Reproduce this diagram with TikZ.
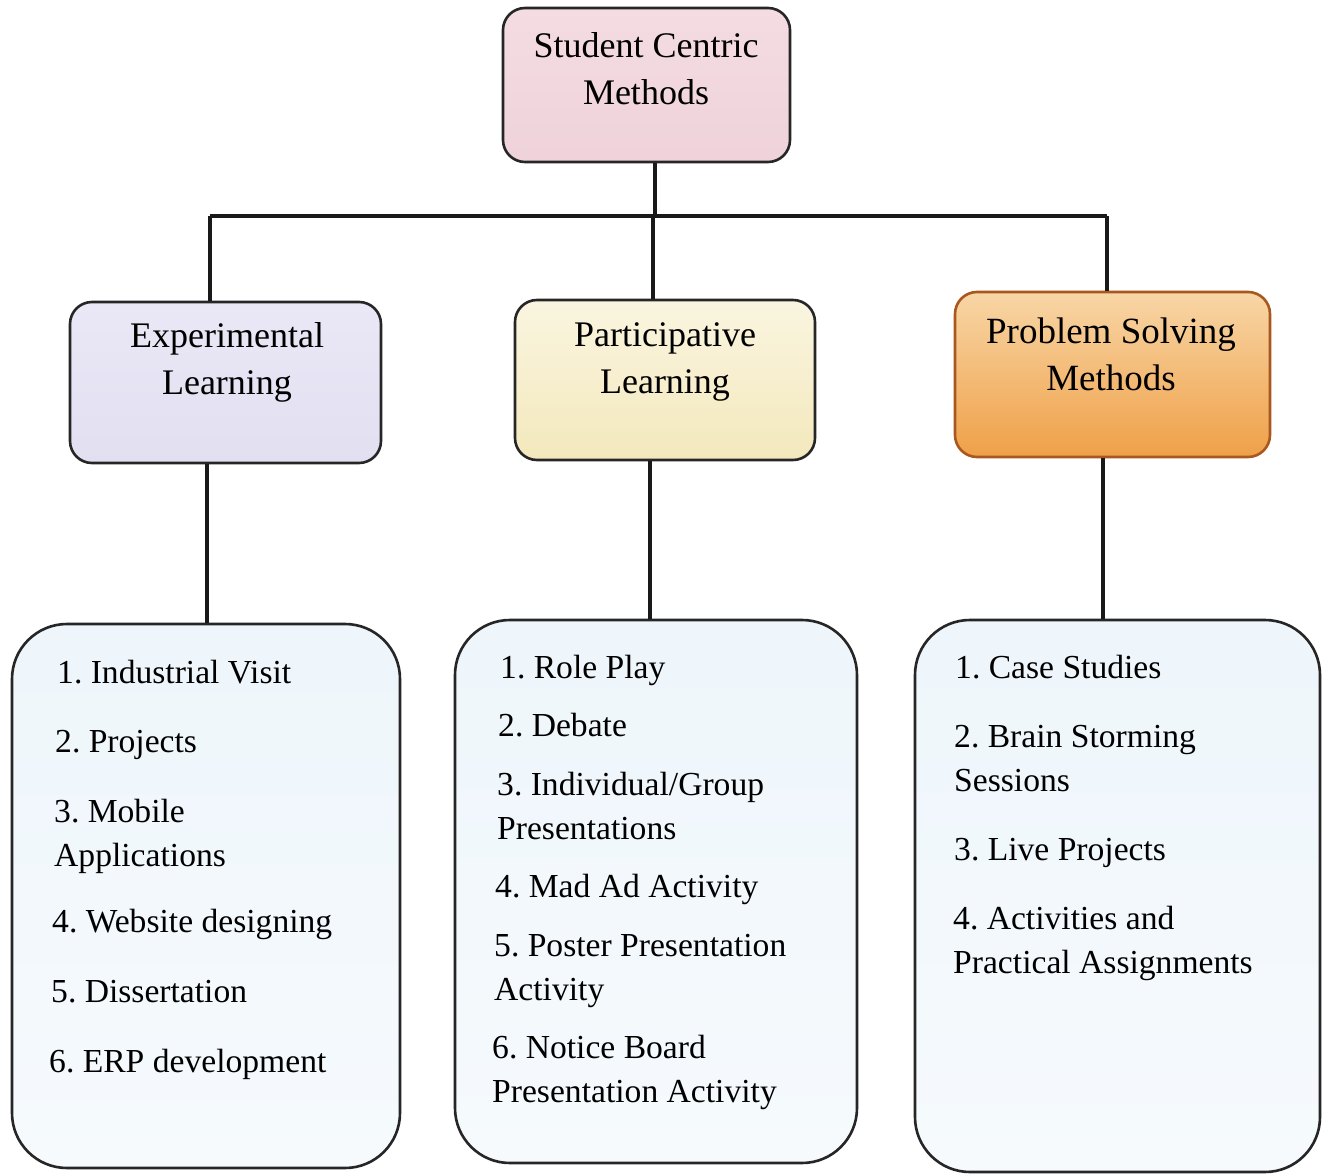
\documentclass[tikz,border=0pt]{standalone}
\usepackage{fontspec}
\setmainfont{Liberation Serif}
\definecolor{rootA}{HTML}{F4DCE2}
\definecolor{rootB}{HTML}{EFD2DA}
\definecolor{expA}{HTML}{EAE8F6}
\definecolor{expB}{HTML}{E2DFF1}
\definecolor{partA}{HTML}{FAF5E0}
\definecolor{partB}{HTML}{F3E8BC}
\definecolor{probA}{HTML}{F8D6A6}
\definecolor{probB}{HTML}{EFA048}
\definecolor{probD}{HTML}{A8581E}
\definecolor{botA}{HTML}{EEF6FB}
\definecolor{botB}{HTML}{F6FAFD}
\begin{document}
\frenchspacing
\begin{tikzpicture}[x=1pt,y=-1pt,
  box/.style={draw=black!85, line width=2.6pt, rounded corners=22pt, inner sep=0pt},
  bigbox/.style={draw=black!85, line width=2.6pt, rounded corners=55pt, inner sep=0pt,
     top color=botA, bottom color=botB},
  head/.style={align=center, font=\fontsize{36}{47}\selectfont, inner sep=0pt},
  item/.style={align=left, anchor=base west, font=\fontsize{33.6}{44}\selectfont, inner sep=0pt},
  conn/.style={line width=3.2pt, draw=black!90}]
\useasboundingbox (0,0) rectangle (1328,1174);
\fill[white] (0,0) rectangle (1328,1174);

% boxes
\node[box, minimum width=287pt, minimum height=154pt, top color=rootA, bottom color=rootB] (root) at (646.5,85) {};
\node[box, minimum width=311pt, minimum height=161pt, top color=expA, bottom color=expB] (exp) at (225.5,382.5) {};
\node[box, minimum width=300pt, minimum height=160pt, top color=partA, bottom color=partB] (part) at (665,380) {};
\node[box, draw=probD, minimum width=315pt, minimum height=165pt, top color=probA, bottom color=probB] (prob) at (1112.5,374.5) {};
\node[bigbox, minimum width=388pt, minimum height=544pt] (botL) at (206,896) {};
\node[bigbox, minimum width=402pt, minimum height=543pt] (botM) at (656,891.5) {};
\node[bigbox, minimum width=405pt, minimum height=552pt] (botR) at (1117.5,896) {};

% headings
\node[head] (rootT) at (646,69) {Student Centric\\Methods};
\node[head] (expT) at (227,362) {Experimental\\Learning};
\node[head] (partT) at (665,362) {Participative\\Learning};
\node[head, font=\fontsize{37}{47}\selectfont] (probT) at (1111,354) {Problem Solving\\Methods};

% connectors
\coordinate (jt) at (655,216);
\coordinate (jl) at (210,216);
\coordinate (jm) at (653,216);
\coordinate (jr) at (1107,216);
\coordinate (sl) at (207,500);
\coordinate (sm) at (650,500);
\coordinate (sr) at (1103,500);
\draw[conn] (jt|-root.south) -- (jt);
\draw[conn] (jl) -- (jr);
\draw[conn] (jl) -- (jl|-exp.north);
\draw[conn] (jm) -- (jm|-part.north);
\draw[conn] (jr) -- (jr|-prob.north);
\draw[conn] (sl|-exp.south) -- (sl|-botL.north);
\draw[conn] (sm|-part.south) -- (sm|-botM.north);
\draw[conn] (sr|-prob.south) -- (sr|-botR.north);

% left items (base anchor = last line baseline)
\node[item] (l1) at (57,683) {1. Industrial Visit};
\node[item] (l2) at (55,752) {2. Projects};
\node[item] (l3) at (54,866) {3. Mobile\\Applications};
\node[item] (l4) at (52,932) {4. Website designing};
\node[item] (l5) at (51,1002) {5. Dissertation};
\node[item] (l6) at (49,1072) {6. ERP development};

% middle items
\node[item] (m1) at (500,678) {1. Role Play};
\node[item] (m2) at (498,736) {2. Debate};
\node[item] (m3) at (497,839) {3. Individual/Group\\Presentations};
\node[item] (m4) at (495,897) {4. Mad Ad Activity};
\node[item] (m5) at (494,1000) {5. Poster Presentation\\Activity};
\node[item] (m6) at (492,1102) {6. Notice Board\\Presentation Activity};

% right items
\node[item] (r1) at (955,678) {1. Case Studies};
\node[item] (r2) at (954,791) {2. Brain Storming\\Sessions};
\node[item] (r3) at (954,860) {3. Live Projects};
\node[item] (r4) at (953,973) {4. Activities and\\Practical Assignments};
\end{tikzpicture}
\end{document}
